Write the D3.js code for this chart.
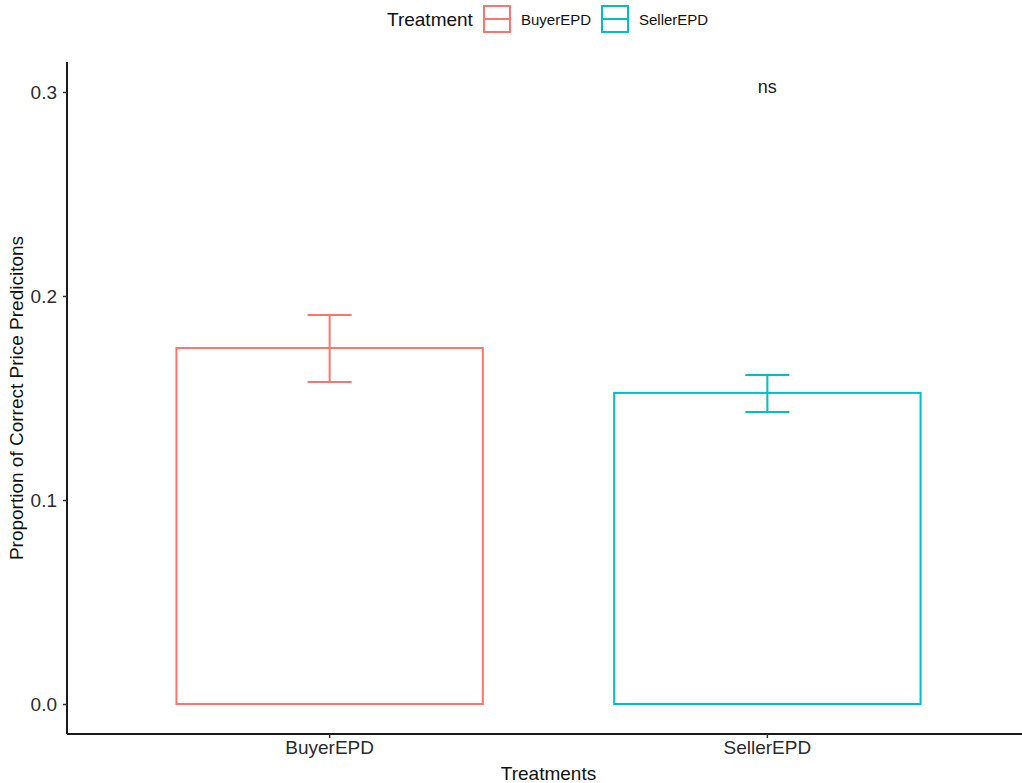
<!DOCTYPE html>
<html>
<head>
<meta charset="utf-8">
<script src="https://cdn.jsdelivr.net/npm/d3@7"></script>
<style>
  body { margin: 0; background: #fff; }
  svg text { font-family: "Liberation Sans", Arial, sans-serif; }
</style>
</head>
<body>
<div id="chart"></div>
<script>
// data
var treatments = ["BuyerEPD", "SellerEPD"];
var proportions = [0.1745, 0.1525];
var errLow = [0.1578, 0.1431];
var errHigh = [0.1907, 0.1613];
var colors = ["#F8766D", "#00BFC4"];
var yTicks = [0.0, 0.1, 0.2, 0.3];
var sigLabel = "ns";
var sigValue = 0.3025;

var width = 1022, height = 783;
var margin = { top: 62, right: -8, bottom: 49, left: 67 };
var innerW = width - margin.left - margin.right;
var innerH = height - margin.top - margin.bottom;

var svg = d3.select("#chart").append("svg")
  .attr("width", width)
  .attr("height", height);

var g = svg.append("g")
  .attr("transform", "translate(" + margin.left + "," + margin.top + ")");

// scales (ggplot-like: discrete expand 0.6, bar width 0.7)
var x = d3.scaleBand()
  .domain(treatments)
  .range([0, innerW]);
var step = innerW / (treatments.length - 1 + 1.2);
function xc(d) { return step * 0.6 + treatments.indexOf(d) * step; }
var barW = step * 0.7;

var y = d3.scaleLinear()
  .domain([-0.0147, 0.3147])
  .range([innerH, 0]);

// bars
g.selectAll("rect.bar")
  .data(treatments)
  .enter().append("rect")
  .attr("class", "bar")
  .attr("x", function(d) { return xc(d) - barW / 2; })
  .attr("y", function(d, i) { return y(proportions[i]); })
  .attr("width", barW)
  .attr("height", function(d, i) { return y(0) - y(proportions[i]); })
  .attr("fill", "none")
  .attr("stroke", function(d, i) { return colors[i]; })
  .attr("stroke-width", 2);

// error bars
var capW = 44;
treatments.forEach(function(d, i) {
  var eb = g.append("g").attr("stroke", colors[i]).attr("stroke-width", 2);
  eb.append("line")
    .attr("x1", xc(d)).attr("x2", xc(d))
    .attr("y1", y(errLow[i])).attr("y2", y(errHigh[i]));
  eb.append("line")
    .attr("x1", xc(d) - capW / 2).attr("x2", xc(d) + capW / 2)
    .attr("y1", y(errLow[i])).attr("y2", y(errLow[i]));
  eb.append("line")
    .attr("x1", xc(d) - capW / 2).attr("x2", xc(d) + capW / 2)
    .attr("y1", y(errHigh[i])).attr("y2", y(errHigh[i]));
});

// significance label
g.append("text")
  .attr("x", xc(treatments[1]))
  .attr("y", y(sigValue))
  .attr("text-anchor", "middle")
  .attr("dy", "0.35em")
  .attr("font-size", 18)
  .attr("fill", "#1a1a1a")
  .text(sigLabel);

// y axis
var yAxis = g.append("g")
  .call(d3.axisLeft(y).tickValues(yTicks).tickFormat(d3.format(".1f")).tickSize(4).tickPadding(6));
yAxis.select(".domain").attr("stroke", "#1a1a1a").attr("stroke-width", 2).attr("d", "M0," + innerH + "V0");
yAxis.selectAll(".tick line").attr("stroke", "#333").attr("stroke-width", 1.5);
yAxis.selectAll(".tick text").attr("font-size", 19).attr("fill", "#2b2b2b");

// x axis
var xAxis = g.append("g")
  .attr("transform", "translate(0," + innerH + ")")
  .call(d3.axisBottom(x).tickSize(4).tickPadding(3));
xAxis.selectAll(".tick").attr("transform", function(d) { return "translate(" + xc(d) + ",0)"; });
xAxis.select(".domain").attr("stroke", "#1a1a1a").attr("stroke-width", 2).attr("d", "M0,0H" + innerW);
xAxis.selectAll(".tick line").attr("stroke", "#333").attr("stroke-width", 1.5);
xAxis.selectAll(".tick text").attr("font-size", 19).attr("fill", "#2b2b2b");

// axis titles
svg.append("text")
  .attr("x", margin.left + innerW / 2)
  .attr("y", 780)
  .attr("text-anchor", "middle")
  .attr("font-size", 19)
  .attr("fill", "#111")
  .text("Treatments");

svg.append("text")
  .attr("transform", "translate(23," + (margin.top + innerH / 2) + ") rotate(-90)")
  .attr("text-anchor", "middle")
  .attr("font-size", 19)
  .attr("fill", "#111")
  .text("Proportion of Correct Price Predicitons");

// legend
var legend = svg.append("g");
legend.append("text")
  .attr("x", 387).attr("y", 26)
  .attr("font-size", 19)
  .attr("fill", "#111")
  .text("Treatment");

var keyX = [484, 602];
treatments.forEach(function(d, i) {
  var k = legend.append("g").attr("transform", "translate(" + keyX[i] + ",6)");
  k.append("rect")
    .attr("x", 0).attr("y", 0)
    .attr("width", 26).attr("height", 26)
    .attr("fill", "none")
    .attr("stroke", colors[i])
    .attr("stroke-width", 2);
  k.append("line")
    .attr("x1", 0).attr("x2", 26)
    .attr("y1", 13).attr("y2", 13)
    .attr("stroke", colors[i])
    .attr("stroke-width", 2);
  k.append("text")
    .attr("x", 37).attr("y", 18.5)
    .attr("font-size", 15)
    .attr("fill", "#111")
    .text(d);
});
</script>
</body>
</html>
